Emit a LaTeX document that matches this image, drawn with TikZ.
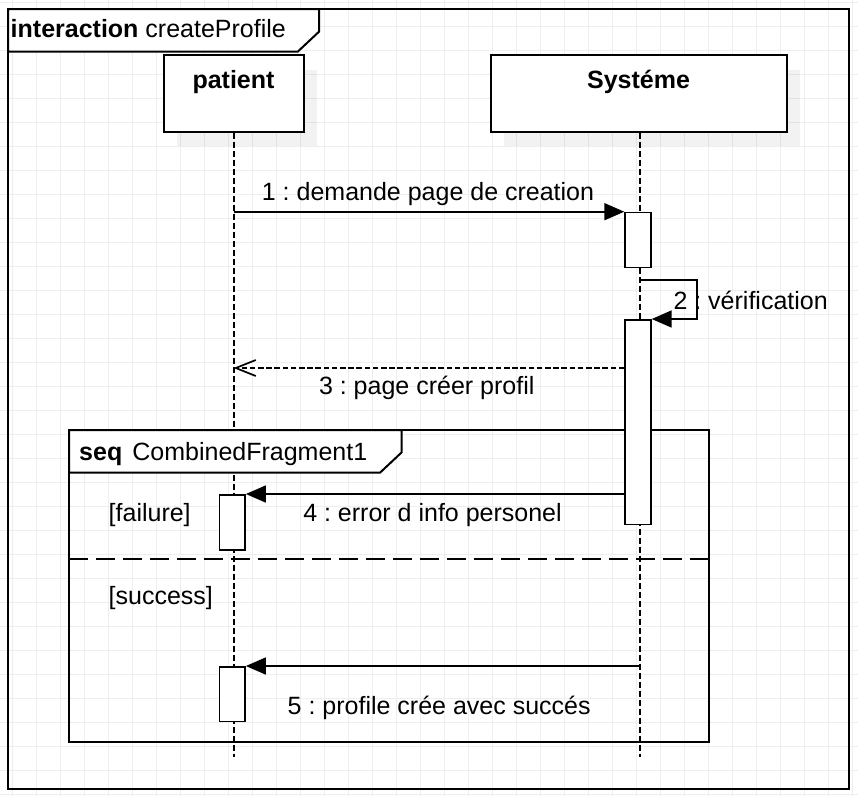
\documentclass[tikz,border=0pt]{standalone}
\usepackage{fontspec}
\setmainfont{Liberation Sans}
\usetikzlibrary{arrows.meta,calc}
\definecolor{gridc}{HTML}{EEEEEE}
\frenchspacing
\begin{document}
\begin{tikzpicture}[x=1pt,y=-1pt,
  txt/.style={font=\fontsize{25}{30}\selectfont, inner sep=0pt, anchor=base},
  txtl/.style={txt, anchor=base west},
  gridline/.style={draw=gridc, line width=1pt},
  frameline/.style={draw=black, line width=2pt},
  headbox/.style={draw=black, line width=2pt, fill=white, inner sep=0pt, minimum height=76.4pt},
  actbox/.style={draw=black, line width=1.7pt, fill=white, inner sep=0pt, minimum width=25.7pt, anchor=north},
  lifeline/.style={draw=black, line width=2pt, dash pattern=on 6pt off 3pt},
  msg/.style={draw=black, line width=1.7pt, -{Triangle[length=20pt,width=17pt]}},
  retmsg/.style={draw=black, line width=1.7pt, dash pattern=on 5.5pt off 2.7pt, -{Straight Barb[length=20pt,width=16pt,line width=1.7pt]}},
  sepline/.style={draw=black, line width=1.7pt, dash pattern=on 19pt off 8pt},
  shadowbox/.style={fill=black, fill opacity=0.05}
]
\useasboundingbox (0,0) rectangle (858,796);
\fill[white] (0,0) rectangle (858,796);
% grid
\foreach \i in {0,...,35} \draw[gridline] (12.7+24*\i,0) -- (12.7+24*\i,796);
\foreach \j in {0,...,33} \draw[gridline] (0,2.7+24*\j) -- (858,2.7+24*\j);
% shadows
\fill[shadowbox] (177,69.5) rectangle (317,146);
\fill[shadowbox] (504,69.5) rectangle (800,146);
% outer frame
\draw[frameline] (8,9) rectangle (849,789);
\draw[frameline, fill=white] (8,9) -- (319,9) -- (319,31.7) -- (297.7,51.7) -- (8,51.7) -- cycle;
\node[txtl] (title) at (10.5,37.3) {\bfseries interaction\mdseries{} createProfile};
% lifeline heads
\node[headbox, minimum width=140pt] (ph) at (233.5,93.5) {};
\node[headbox, minimum width=296pt] (sh) at (638.5,93.5) {};
\node[txt] (phl) at (233.5,88.3) {\bfseries patient};
\node[txt] (shl) at (638.5,88.3) {\bfseries Systéme};
\coordinate (pend) at (233.5,757);
\coordinate (send) at (639.5,757);
\draw[lifeline] (ph.south) -- (pend);
\draw[lifeline] (sh.south -| send) -- (send);
% combined fragment
\draw[frameline] (69,430) rectangle (709,742);
\draw[frameline, fill=white] (69,430) -- (401.7,430) -- (401.7,452.3) -- (380,472.7) -- (69,472.7) -- cycle;
\node[txtl] (seql) at (79,460) {\bfseries seq};
\node[txtl] (cfl) at (132.2,460) {CombinedFragment1};
\coordinate (sepa) at (69,559);
\coordinate (sepb) at (709,559);
\draw[sepline] (sepa) -- (sepb);
\node[txtl] (fail) at (108.5,521.7) {[failure]};
\node[txtl] (succ) at (108.5,604.5) {[success]};
% activations
\node[actbox, minimum height=55pt] (act1) at (638,211.7) {};
\node[actbox, minimum height=204.5pt] (act2) at (638,319) {};
\node[actbox, minimum height=55pt] (actf) at (232.2,494) {};
\node[actbox, minimum height=54.7pt] (acts) at (232.2,666) {};
% message 1
\node[txt] (l1) at (428,200) {1 : demande page de creation};
\draw[msg] (ph.south |- act1.north west) -- (act1.north west);
% message 2 (self)
\node[txtl] (l2) at (673.3,309.3) {2 : vérification};
\coordinate (s2a) at (639.5,280);
\coordinate (s2b) at (697.3,319);
\draw[line width=1.7pt, -{Triangle[length=20pt,width=17pt]}] (s2a) -- (s2b |- s2a) -- (s2b) -- (act2.north east);
% message 3
\coordinate (m3) at (0,368);
\draw[retmsg] (act2.west |- m3) -- (ph.south |- m3);
\node[txt] (l3) at (426.7,394.3) {3 : page créer profil};
% message 4
\draw[msg] (act2.west |- actf.north) -- (actf.north east);
\node[txt] (l4) at (432.5,521.7) {4 : error d info personel};
% message 5
\draw[msg] (send |- acts.north) -- (acts.north east);
\node[txt] (l5) at (439.2,714) {5 : profile crée avec succés};
\end{tikzpicture}
\end{document}
